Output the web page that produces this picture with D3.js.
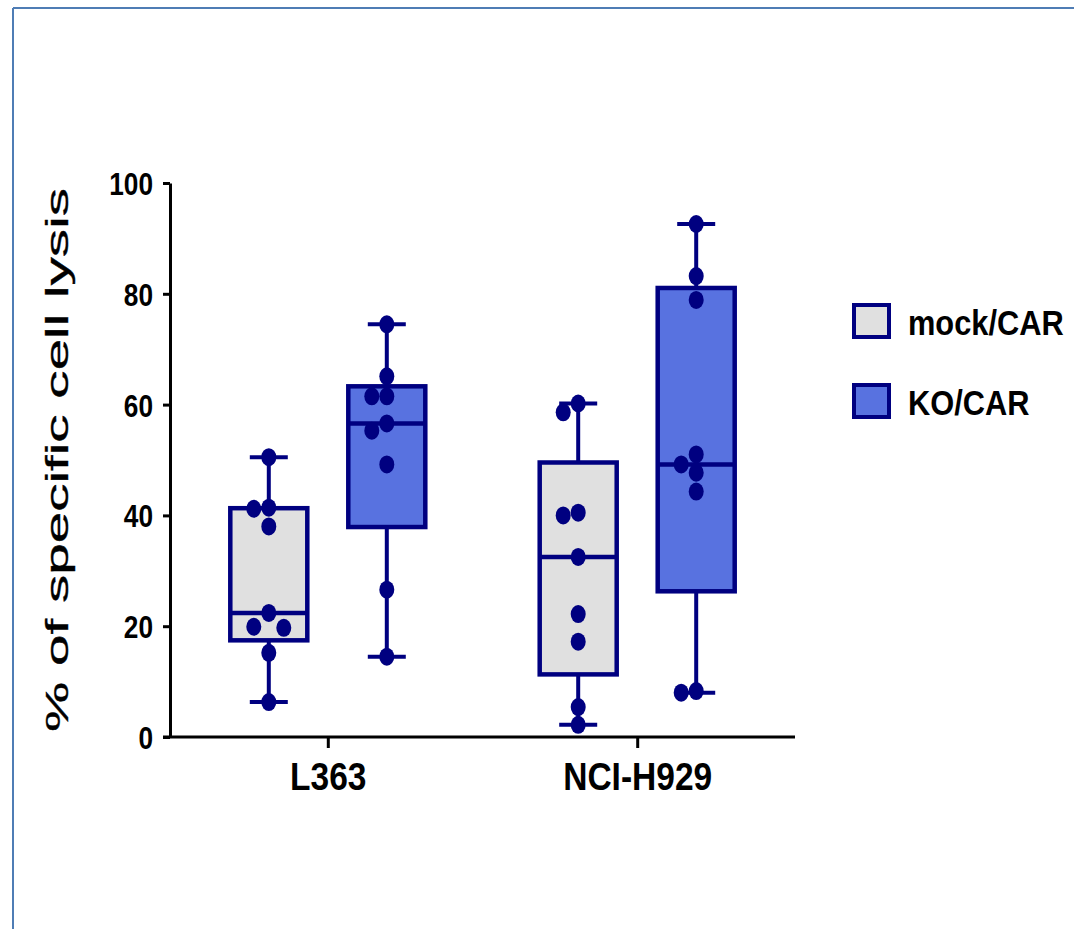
<!DOCTYPE html>
<html><head><meta charset="utf-8">
<script src="https://cdn.jsdelivr.net/npm/d3@7"></script>
<style>
html,body{margin:0;padding:0;background:#fff;}
svg{display:block;}
</style></head><body>
<svg id="chart" width="1074" height="929"></svg>
<script>
// ---------------- data ----------------
const categories = ["L363", "NCI-H929"];
const groups = ["mock/CAR", "KO/CAR"];
const mockL363 = [50.5, 41.4, 41.2, 38.0, 22.4, 19.9, 19.7, 15.2, 6.3];
const koL363   = [74.5, 65.1, 61.5, 61.5, 56.6, 55.3, 49.2, 26.6, 14.5];
const mockH929 = [60.2, 58.6, 40.5, 40.0, 32.5, 22.2, 17.2, 5.4, 2.2];
const koH929   = [92.6, 83.2, 78.9, 51.0, 49.2, 47.7, 44.3, 8.3, 8.0];
const yTicks = [0, 20, 40, 60, 80, 100];
const yTitle = "% of specific cell lysis";

const series = [
  {category: categories[0], group: groups[0], values: mockL363},
  {category: categories[0], group: groups[1], values: koL363},
  {category: categories[1], group: groups[0], values: mockH929},
  {category: categories[1], group: groups[1], values: koH929}
];

// ---------------- styles ----------------
const NAVY = "#000080";
const fills = {"mock/CAR": "#e0e0e0", "KO/CAR": "#5872e0"};
const NARROW = 0.82;
const svg = d3.select("#chart");

// frame
svg.append("line").attr("x1", 13).attr("y1", 8).attr("x2", 13).attr("y2", 929)
  .attr("stroke", "#4f7db5").attr("stroke-width", 2);
svg.append("line").attr("x1", 13).attr("y1", 8).attr("x2", 1074).attr("y2", 8)
  .attr("stroke", "#4f7db5").attr("stroke-width", 2);

// ---------------- scales ----------------
const y = d3.scaleLinear().domain([0, 100]).range([737, 183]);
const x = d3.scalePoint().domain(categories).range([170, 795]).padding(0.51);
const xg = d3.scalePoint().domain(groups).range([-59, 59]);
const boxW = 77, capW = 38;

function narrowText(sel, k) {
  sel.each(function() {
    const t = d3.select(this);
    const tx = +t.attr("x") || 0;
    t.attr("x", 0).attr("transform", `translate(${tx},0) scale(${k},1)`);
  });
}

// ---------------- axes ----------------
const yAxis = svg.append("g").attr("transform", "translate(170,0)")
  .call(d3.axisLeft(y).tickValues(yTicks).tickSize(7).tickSizeOuter(0).tickPadding(10));
yAxis.select(".domain").attr("stroke", "#000").attr("stroke-width", 3);
yAxis.selectAll(".tick line").attr("stroke", "#000").attr("stroke-width", 3);
yAxis.selectAll(".tick text").attr("fill", "#000")
  .style("font-family", "'Liberation Sans', Arial, sans-serif")
  .style("font-weight", "bold").style("font-size", "32px").attr("dy", "0.36em")
  .call(narrowText, NARROW);

const xAxis = svg.append("g").attr("transform", "translate(0,737)")
  .call(d3.axisBottom(x).tickSize(11).tickSizeOuter(0).tickPadding(14));
xAxis.select(".domain").attr("stroke", "#000").attr("stroke-width", 3)
  .attr("d", "M163,0H795");
xAxis.selectAll(".tick line").attr("stroke", "#000").attr("stroke-width", 3);
xAxis.selectAll(".tick text").attr("fill", "#000")
  .style("font-family", "'Liberation Sans', Arial, sans-serif")
  .style("font-weight", "bold").style("font-size", "39px")
  .call(narrowText, 0.86);

// y title
svg.append("text")
  .attr("transform", "translate(68,460) rotate(-90)")
  .attr("text-anchor", "middle")
  .attr("textLength", 544).attr("lengthAdjust", "spacingAndGlyphs")
  .style("font-family", "'Liberation Sans', Arial, sans-serif")
  .style("font-size", "32px").attr("fill", "#000")
  .attr("stroke", "#000").attr("stroke-width", 0.35)
  .text(yTitle);

// ---------------- boxes ----------------
function quant(sorted, p) {
  const n = sorted.length, pos = (n + 1) * p;
  const lo = Math.floor(pos), hi = Math.ceil(pos);
  const a = sorted[Math.min(Math.max(lo, 1), n) - 1];
  const b = sorted[Math.min(Math.max(hi, 1), n) - 1];
  return a + (b - a) * (pos - lo);
}

const stats = series.map(s => {
  const sorted = s.values.slice().sort(d3.ascending);
  return {
    ...s,
    cx: x(s.category) + xg(s.group),
    min: sorted[0], max: sorted[sorted.length - 1],
    q1: quant(sorted, 0.25), med: quant(sorted, 0.5), q3: quant(sorted, 0.75)
  };
});

const gBox = svg.append("g");
stats.forEach(s => {
  const g = gBox.append("g");
  g.append("line").attr("x1", s.cx).attr("x2", s.cx).attr("y1", y(s.max)).attr("y2", y(s.min))
    .attr("stroke", NAVY).attr("stroke-width", 4);
  [s.max, s.min].forEach(v => {
    g.append("line").attr("x1", s.cx - capW / 2).attr("x2", s.cx + capW / 2)
      .attr("y1", y(v)).attr("y2", y(v)).attr("stroke", NAVY).attr("stroke-width", 4);
  });
  g.append("rect").attr("x", s.cx - boxW / 2).attr("width", boxW)
    .attr("y", y(s.q3)).attr("height", y(s.q1) - y(s.q3))
    .attr("fill", fills[s.group]).attr("stroke", NAVY).attr("stroke-width", 4.5);
  g.append("line").attr("x1", s.cx - boxW / 2).attr("x2", s.cx + boxW / 2)
    .attr("y1", y(s.med)).attr("y2", y(s.med)).attr("stroke", NAVY).attr("stroke-width", 4.5);
});

// ---------------- points (dodged) ----------------
const rx = 7.5, ry = 9, step = 15;
const gPts = svg.append("g");
stats.forEach(s => {
  const sorted = s.values.slice().sort(d3.descending);
  const placed = [];
  sorted.forEach(v => {
    const py = y(v);
    let px = 0;
    for (const k of [0, -1, 1, -2, 2]) {
      const cand = k * step;
      const ok = placed.every(p => {
        const dx = (cand - p.x) / (2 * rx), dy = (py - p.y) / (2 * ry);
        return Math.sqrt(dx * dx + dy * dy) >= 0.9;
      });
      if (ok) { px = cand; break; }
    }
    placed.push({x: px, y: py});
  });
  gPts.selectAll(null).data(placed).join("ellipse")
    .attr("cx", d => s.cx + d.x).attr("cy", d => d.y)
    .attr("rx", rx).attr("ry", ry).attr("fill", NAVY);
});

// ---------------- legend ----------------
const legend = svg.append("g");
groups.forEach((gname, i) => {
  const ly = 305 + i * 80;
  legend.append("rect").attr("x", 854).attr("y", ly).attr("width", 35).attr("height", 32)
    .attr("fill", fills[gname]).attr("stroke", NAVY).attr("stroke-width", 4);
  legend.append("text").attr("transform", `translate(908,${ly + 30}) scale(0.88,1)`)
    .style("font-family", "'Liberation Sans', Arial, sans-serif")
    .style("font-weight", "bold").style("font-size", "35px").attr("fill", "#000")
    .text(gname);
});
</script>
</body></html>
